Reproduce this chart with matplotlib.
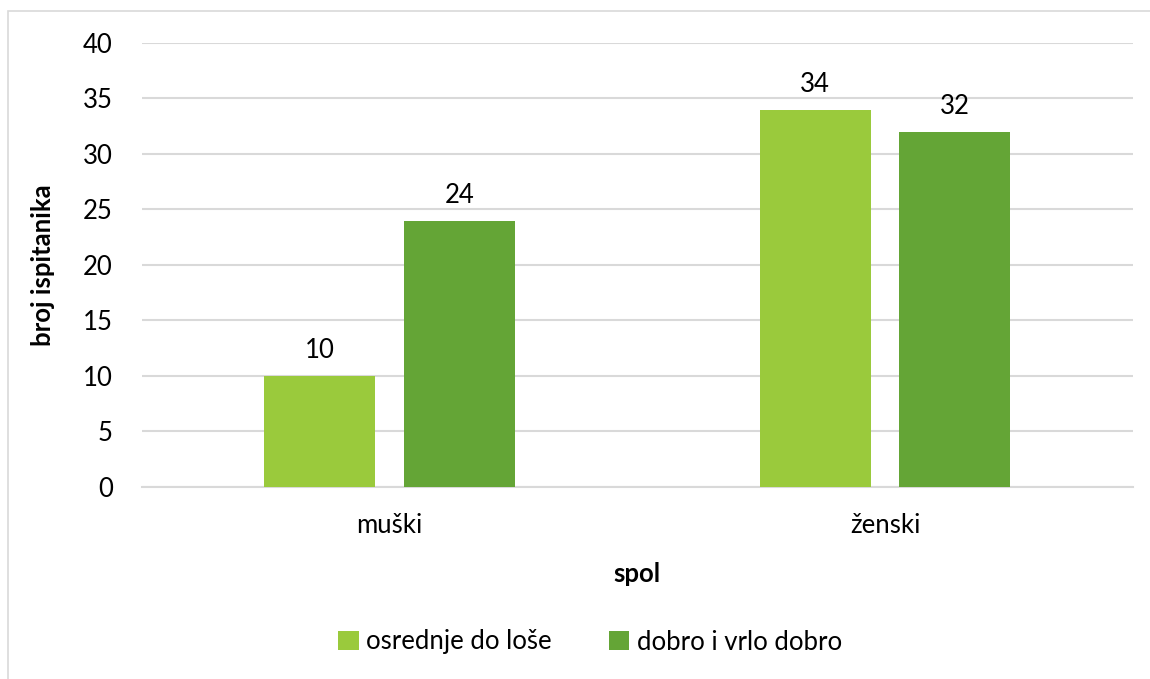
import numpy as np
import matplotlib.pyplot as plt
from matplotlib.patches import Rectangle

# -----------------------------
# Data
# -----------------------------
categories = ["muški", "ženski"]
series_names = ["osrednje do loše", "dobro i vrlo dobro"]
osrednje = [10, 34]
dobro = [24, 32]
colors = ["#9ACA3C", "#64A536"]

plt.rcParams["font.family"] = ["Lato", "DejaVu Sans"]
fs = 18.5

# -----------------------------
# Figure
# -----------------------------
fig = plt.figure(figsize=(11.5, 6.79), dpi=100)
ax = fig.add_axes([0.1235, 0.2828, 0.8615, 0.6539])

x = np.arange(len(categories))
width = 0.224
offset = 0.141

bars1 = ax.bar(x - offset, osrednje, width, color=colors[0], label=series_names[0], zorder=3)
bars2 = ax.bar(x + offset, dobro, width, color=colors[1], label=series_names[1], zorder=3)

for bars in (bars1, bars2):
    for b in bars:
        ax.annotate(str(int(b.get_height())),
                    (b.get_x() + b.get_width() / 2, b.get_height()),
                    xytext=(0, 9), textcoords="offset points",
                    ha="center", va="bottom", fontsize=fs, color="#000000")

ax.set_xlim(-0.5, 1.5)
ax.set_ylim(0, 40)
ax.set_yticks(range(0, 41, 5))
ax.set_xticks(x)
ax.set_xticklabels(categories)
ax.tick_params(axis="both", length=0, labelsize=fs, colors="#000000")
ax.tick_params(axis="y", pad=21)
ax.tick_params(axis="x", pad=19)

ax.grid(axis="y", color="#D9D9D9", linewidth=1.5, zorder=0)
for s in ["top", "right", "left"]:
    ax.spines[s].set_visible(False)
ax.spines["bottom"].set_color("#D9D9D9")
ax.spines["bottom"].set_linewidth(1.5)

ax.set_ylabel("broj ispitanika", fontsize=fs, fontweight="bold", labelpad=20)
ax.set_xlabel("spol", fontsize=fs, fontweight="bold", labelpad=17)

ax.legend(loc="center", bbox_to_anchor=(590 / 1150, 1 - 642 / 679),
          bbox_transform=fig.transFigure, ncol=2, frameon=False,
          fontsize=fs, handlelength=0.8, handleheight=0.8,
          handletextpad=0.3, columnspacing=2.2)

# chart border
fig.patches.append(Rectangle((8 / 1150, -0.05), 1.1, 1 - 11 / 679 + 0.05,
                             transform=fig.transFigure, fill=False,
                             edgecolor="#D9D9D9", linewidth=1.2))

fig.savefig("out.png", dpi=100)
